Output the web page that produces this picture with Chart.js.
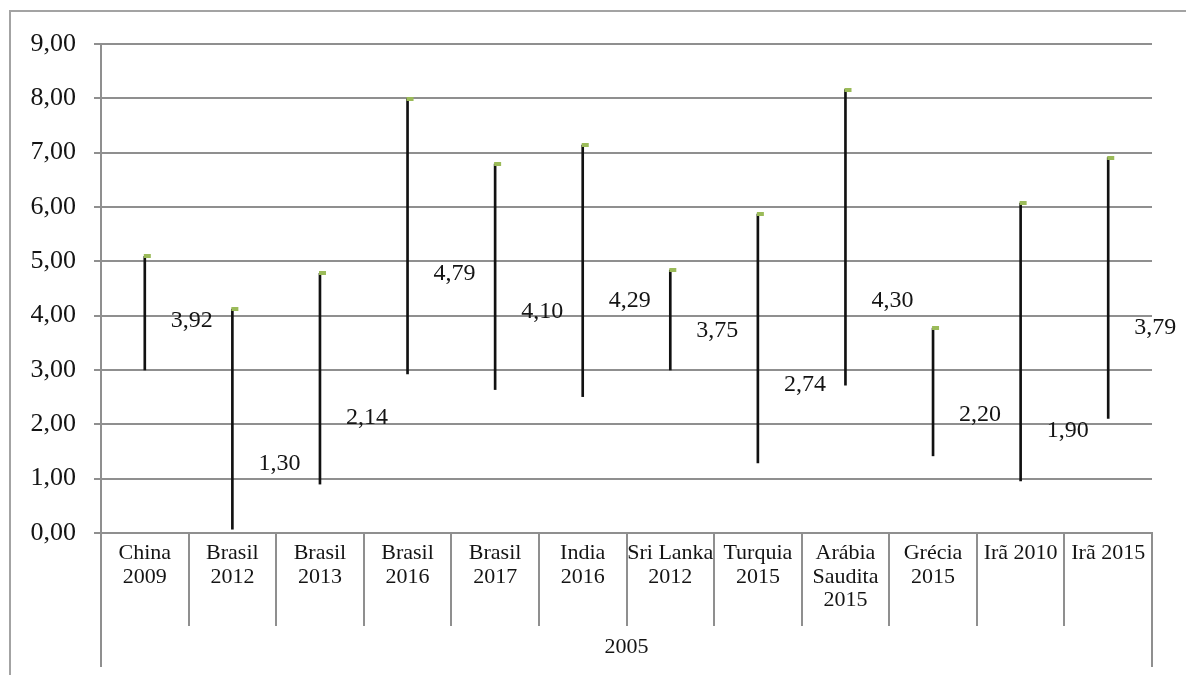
<!DOCTYPE html>
<html>
<head>
<meta charset="utf-8">
<script src="https://cdn.jsdelivr.net/npm/chart.js@4.4.1/dist/chart.umd.min.js"></script>
<style>
  html, body { margin: 0; padding: 0; background: #fff; }
  #wrap { width: 1186px; height: 675px; }
</style>
</head>
<body>
<div id="wrap"><canvas id="chart"></canvas></div>
<script>
const categories = [
    ['China', '2009'], ['Brasil', '2012'], ['Brasil', '2013'], ['Brasil', '2016'],
    ['Brasil', '2017'], ['India', '2016'], ['Sri Lanka', '2012'], ['Turquia', '2015'],
    ['Arábia', 'Saudita', '2015'], ['Grécia', '2015'], ['Irã 2010'], ['Irã 2015']
];
const groupLabel = '2005';
const lowValues = [3.00, 0.07, 0.90, 2.93, 2.64, 2.51, 3.00, 1.29, 2.72, 1.42, 0.96, 2.11];
const highValues = [5.09, 4.12, 4.78, 7.99, 6.79, 7.14, 4.84, 5.87, 8.16, 3.77, 6.07, 6.91];
const closeValues = [3.92, 1.30, 2.14, 4.79, 4.10, 4.29, 3.75, 2.74, 4.30, 2.20, 1.90, 3.79];

const FONT = '"Liberation Serif", "Times New Roman", serif';
const GRID = '#8f8f8f';
const TEXT = '#141414';
const fmt = v => v.toFixed(2).replace('.', ',');

// little green tick at the top of each line (sits a bit to the right)
const marker = document.createElement('canvas');
marker.width = 14;
marker.height = 4;
const mctx = marker.getContext('2d');
mctx.fillStyle = '#9bbb59';
mctx.fillRect(6, 0, 7, 4);

const frame = {
    id: 'frame',
    beforeDraw(chart) {
        const ctx = chart.ctx;
        ctx.save();
        ctx.strokeStyle = '#a3a3a3';
        ctx.lineWidth = 2;
        ctx.beginPath();
        ctx.moveTo(10, 675);
        ctx.lineTo(10, 11);
        ctx.lineTo(1186, 11);
        ctx.stroke();
        ctx.restore();
    },
    afterDraw(chart) {
        const { ctx, chartArea: { left, right, bottom } } = chart;
        ctx.save();
        ctx.strokeStyle = GRID;
        ctx.lineWidth = 2;
        ctx.beginPath();
        ctx.moveTo(left, bottom);
        ctx.lineTo(left, 667);
        ctx.moveTo(right, bottom + 90);
        ctx.lineTo(right, 667);
        ctx.stroke();
        // second level of the category axis
        ctx.fillStyle = TEXT;
        ctx.font = '22px ' + FONT;
        ctx.textAlign = 'center';
        ctx.textBaseline = 'middle';
        ctx.fillText(groupLabel, (left + right) / 2, 647);
        ctx.restore();
    }
};

const closeLabels = {
    id: 'closeLabels',
    afterDatasetsDraw(chart) {
        const ctx = chart.ctx;
        const meta = chart.getDatasetMeta(2);
        ctx.save();
        ctx.font = '24px ' + FONT;
        ctx.fillStyle = TEXT;
        ctx.textAlign = 'left';
        ctx.textBaseline = 'middle';
        meta.data.forEach((pt, i) => {
            ctx.fillText(fmt(closeValues[i]), pt.x + 26, pt.y + 1);
        });
        ctx.restore();
    }
};

new Chart(document.getElementById('chart').getContext('2d'), {
    type: 'bar',
    data: {
        labels: categories,
        datasets: [
            {
                type: 'line',
                label: 'Máx',
                data: highValues,
                showLine: false,
                pointStyle: marker,
                pointRadius: 5,
                order: 0
            },
            {
                label: 'Intervalo',
                data: lowValues.map((lo, i) => [lo, highValues[i]]),
                backgroundColor: '#111',
                barThickness: 2,
                borderSkipped: false,
                order: 1
            },
            {
                type: 'line',
                label: 'Valor',
                data: closeValues,
                showLine: false,
                pointRadius: 0,
                order: 2
            }
        ]
    },
    options: {
        responsive: true,
        maintainAspectRatio: false,
        animation: false,
        layout: { padding: { top: 44, right: 34, bottom: 0, left: 0 } },
        plugins: {
            legend: { display: false },
            tooltip: { enabled: false }
        },
        scales: {
            y: {
                min: 0,
                max: 9,
                ticks: {
                    stepSize: 1,
                    padding: 18,
                    color: TEXT,
                    font: { family: FONT, size: 26 },
                    callback: v => fmt(v)
                },
                grid: { color: GRID, lineWidth: 2, tickLength: 7 },
                border: { color: GRID, width: 2 },
                afterFit(scale) { scale.width = 101; }
            },
            x: {
                offset: true,
                ticks: {
                    padding: -84,
                    color: TEXT,
                    maxRotation: 0,
                    autoSkip: false,
                    font: { family: FONT, size: 22, lineHeight: 1.06 }
                },
                grid: {
                    offset: true,
                    drawOnChartArea: false,
                    color: GRID,
                    lineWidth: 2,
                    tickLength: 93
                },
                border: { color: GRID, width: 2 },
                afterFit(scale) { scale.height = 142; }
            }
        }
    },
    plugins: [frame, closeLabels]
});
</script>
</body>
</html>
